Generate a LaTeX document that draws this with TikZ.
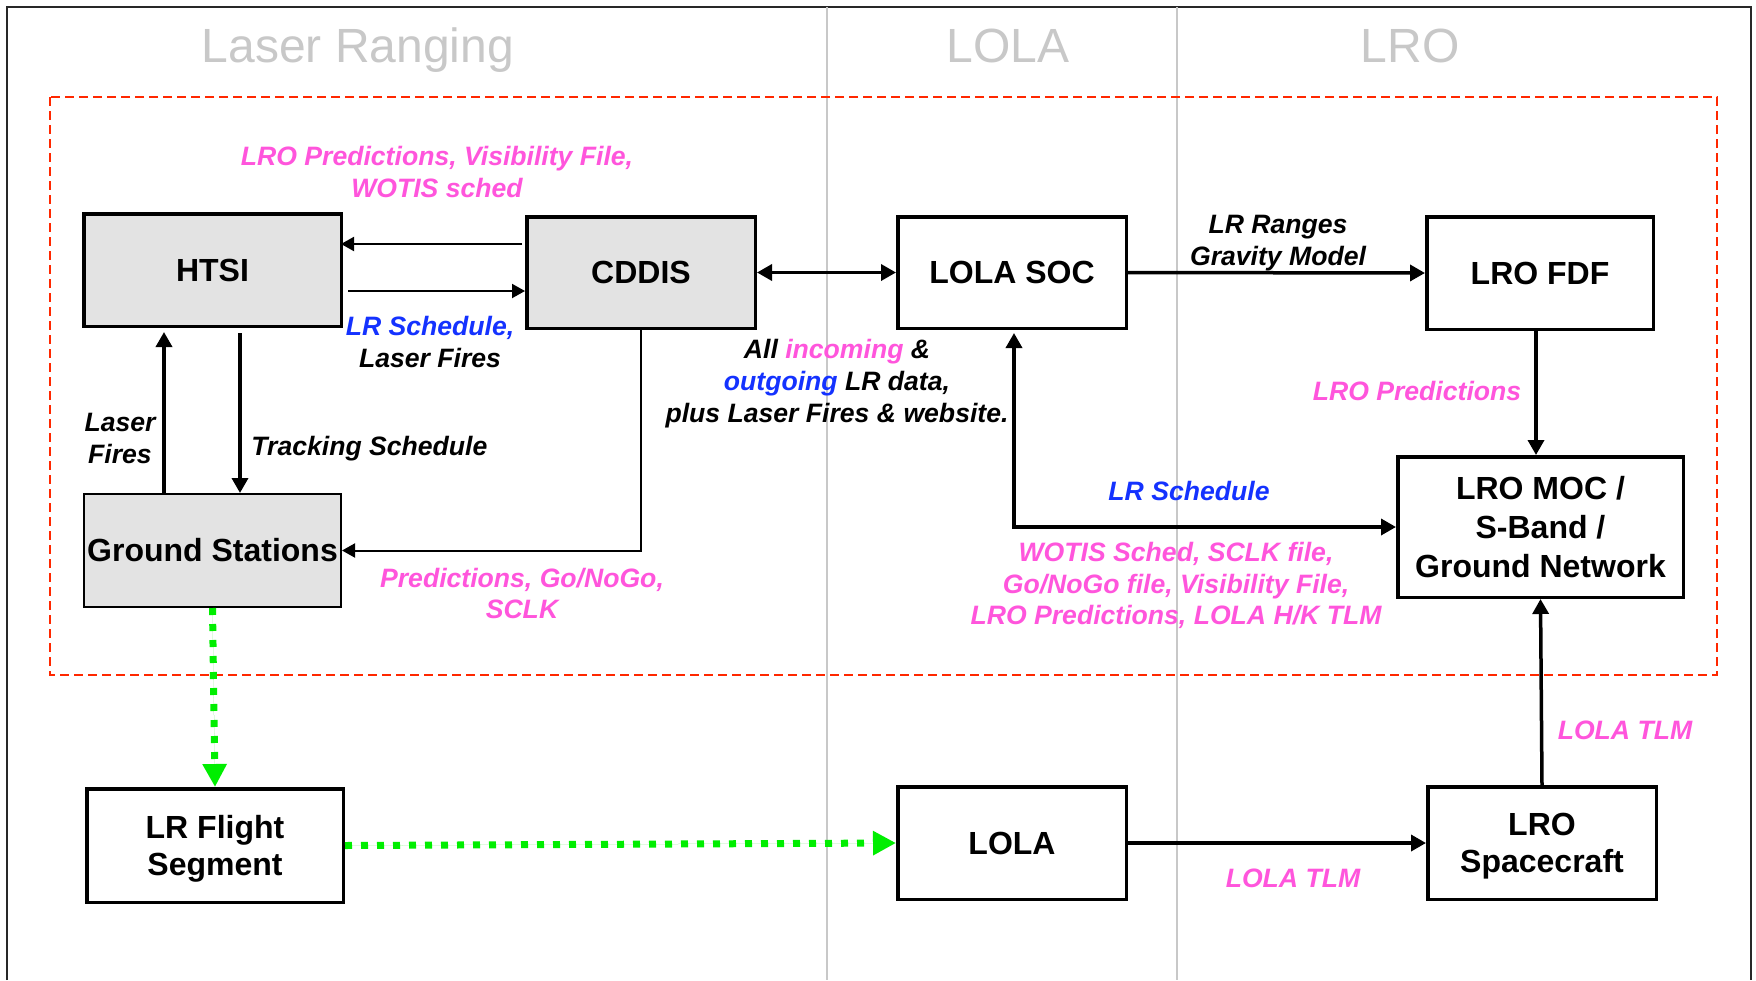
\documentclass[tikz,border=0pt]{standalone}
\usepackage{fontspec}
\setmainfont{Liberation Sans}
\usetikzlibrary{arrows.meta,calc}
\definecolor{mag}{RGB}{255,85,220}
\definecolor{blu}{RGB}{20,50,255}
\definecolor{titlegray}{RGB}{200,200,200}
\definecolor{redd}{RGB}{255,40,0}
\definecolor{grn}{RGB}{0,238,0}
\definecolor{boxgray}{RGB}{227,227,227}
\definecolor{framec}{RGB}{40,40,40}
\begin{document}
\begin{tikzpicture}[x=0.5pt,y=-0.5pt,
  box/.style={draw=black,line width=1.75pt,inner sep=0pt,font=\fontsize{16}{18.5}\selectfont\bfseries,align=center,minimum width=114.25pt,minimum height=55.75pt},
  lbl/.style={font=\fontsize{13.3}{16}\selectfont\bfseries\itshape,inner sep=0pt,anchor=base},
  titletext/.style={font=\fontsize{24}{28}\selectfont,text=titlegray,inner sep=0pt,anchor=base},
  thinarr/.style={line width=1pt,-{Triangle[length=6.5pt,width=7pt]}},
  thickarr/.style={line width=1.75pt,-{Triangle[length=7.5pt,width=8pt]}},
  dthickarr/.style={line width=1.75pt,{Triangle[length=7.5pt,width=8pt]}-{Triangle[length=7.5pt,width=8pt]}},
  gflow/.style={draw=grn,line width=3.5pt,dash pattern=on 3.5pt off 4.5pt,-{Triangle[length=11.5pt,width=11.5pt]},fill=grn}
]
\useasboundingbox (0,0) rectangle (1756,980);
\fill[white] (0,0) rectangle (1756,980);
% frame and column separators
\draw[line width=1pt,draw=framec] (7,980) -- (7,7) -- (1751,7) -- (1751,980);
\draw[line width=1pt,draw=titlegray] (827,7) -- (827,980);
\draw[line width=1pt,draw=titlegray] (1177,7) -- (1177,980);
% titles
\node[titletext] (t1) at (358,62) {Laser Ranging};
\node[titletext] (t2) at (1008,62) {LOLA};
\node[titletext] (t3) at (1410,62) {LRO};
% red dashed region
\draw[draw=redd,line width=1.3pt,dash pattern=on 4.5pt off 2.5pt] (50,97) rectangle (1717,675);
% boxes
\node[box,fill=boxgray,minimum width=128.75pt,minimum height=56.25pt] (HTSI) at (212.5,270) {HTSI};
\node[box,fill=boxgray] (CDDIS) at (641,272.5) {CDDIS};
\node[box,fill=white] (LOLASOC) at (1012,272.5) {LOLA SOC};
\node[box,fill=white,minimum width=113.25pt,minimum height=56.25pt] (LROFDF) at (1540,273) {LRO FDF};
\node[box,fill=white,minimum width=142.75pt,minimum height=70.25pt,font=\fontsize{16}{19.5}\selectfont\bfseries] (LROMOC) at (1540.5,527) {LRO MOC /\\S-Band /\\Ground Network};
\node[box,fill=boxgray,line width=1pt,minimum width=128.5pt,minimum height=56.5pt] (GS) at (212.5,550.5) {Ground Stations};
\node[box,fill=white,minimum width=128.25pt,minimum height=56.75pt,text depth=0pt] (LRFS) at (215,845.5) {LR Flight\\Segment};
\node[box,fill=white,minimum height=56.25pt] (LOLA) at (1012,843) {LOLA};
\node[box,fill=white,minimum height=56.25pt,text depth=0pt] (LROSC) at (1542,843) {LRO\\Spacecraft};
% connectors
\draw[thinarr] ($(CDDIS.west)+(-3,-28.5)$) -- ($(HTSI.east)+(-2,-26)$);
\draw[thinarr] ($(HTSI.east)+(5,21)$) -- ($(CDDIS.west)+(0,18.5)$);
\draw[dthickarr] (CDDIS.east) -- (LOLASOC.west);
\draw[thickarr] (LOLASOC.east) -- (LROFDF.west);
\draw[thickarr] ($(LROFDF.south)+(-4,0)$) -- ($(LROMOC.north)+(-4.5,0)$);
\draw[thickarr] ($(GS.north)+(-48.5,0)$) -- ($(HTSI.south)+(-48.5,4)$);
\draw[thickarr] ($(HTSI.south)+(27.5,5)$) -- ($(GS.north)+(27.5,0)$);
\draw[thinarr] (CDDIS.south) |- (GS.east);
\draw[dthickarr] ($(LOLASOC.south)+(2,3)$) |- (LROMOC.west);
\draw[thickarr] (LROSC.north) -- (LROMOC.south);
\draw[thickarr] (LOLA.east) -- (LROSC.west);
\draw[gflow] (GS.south) -- (LRFS.north);
\draw[gflow] (LRFS.east) -- (LOLA.west);
% labels
\node[lbl,text=mag] (l1a) at (437,165) {LRO Predictions, Visibility File,};
\node[lbl,text=mag] (l1b) at (437,197) {WOTIS sched};
\node[lbl,text=blu] (l2a) at (430,335) {LR Schedule,};
\node[lbl] (l2b) at (430,367) {Laser Fires};
\node[lbl] (l3a) at (837,358) {All \textcolor{mag}{incoming} \&};
\node[lbl] (l3b) at (837,390) {\textcolor{blu}{outgoing} LR data,};
\node[lbl] (l3c) at (837,422) {plus Laser Fires \& website.};
\node[lbl] (l4a) at (120,431) {Laser};
\node[lbl] (l4b) at (120,463) {Fires};
\node[lbl,anchor=base west] (l5) at (251,455) {Tracking Schedule};
\node[lbl,text=mag] (l6a) at (522,587) {Predictions, Go/NoGo,};
\node[lbl,text=mag] (l6b) at (522,618) {SCLK};
\node[lbl] (l7a) at (1278,233) {LR Ranges};
\node[lbl] (l7b) at (1278,265) {Gravity Model};
\node[lbl,text=mag] (l8) at (1417,400) {LRO Predictions};
\node[lbl,text=blu] (l9) at (1189,500) {LR Schedule};
\node[lbl,text=mag] (l10a) at (1176,561) {WOTIS Sched, SCLK file,};
\node[lbl,text=mag] (l10b) at (1176,593) {Go/NoGo file, Visibility File,};
\node[lbl,text=mag] (l10c) at (1176,624) {LRO Predictions, LOLA H/K TLM};
\node[lbl,text=mag] (l11) at (1625,739) {LOLA TLM};
\node[lbl,text=mag] (l12) at (1293,887) {LOLA TLM};
\end{tikzpicture}
\end{document}
